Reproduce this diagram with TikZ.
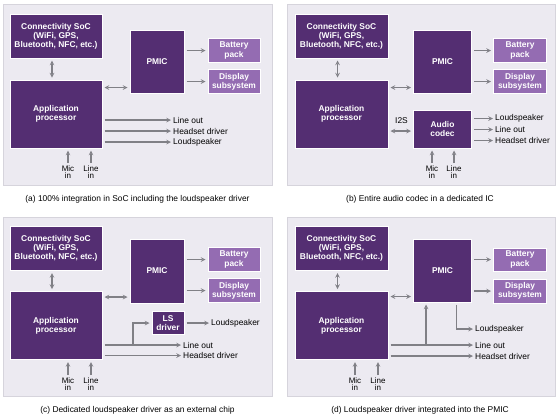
\documentclass[tikz,border=0pt]{standalone}
\usepackage{fontspec}
\setmainfont{Liberation Sans}
\usetikzlibrary{shadows}
\definecolor{panelbg}{RGB}{236,234,241}
\definecolor{panelline}{RGB}{214,212,220}
\definecolor{chipdark}{RGB}{84,46,114}
\definecolor{chiplight}{RGB}{148,108,178}
\definecolor{arrgrey}{RGB}{128,128,134}
\newcommand\chipfont{\fontsize{8.4}{9.1}\selectfont\bfseries}
\newcommand\lblfont{\fontsize{8.4}{9}\selectfont}
\newcommand\micfont{\fontsize{8}{7.6}\selectfont}
\begin{document}
\begin{tikzpicture}[x=1pt,y=-1pt,>=stealth,
  panel/.style={fill=panelbg,draw=panelline,line width=.6pt,
    drop shadow={opacity=.18,shadow xshift=.6pt,shadow yshift=-.8pt}},
  chip/.style={fill=chipdark,draw=white,line width=1pt,text=white,font=\chipfont,
    align=center,inner sep=0pt,
    drop shadow={opacity=.3,shadow xshift=.6pt,shadow yshift=-.8pt}},
  subchip/.style={chip,fill=chiplight},
  lbl/.style={font=\lblfont,inner sep=0pt,anchor=west},
  mic/.style={font=\micfont,inner sep=0pt,align=center,anchor=north},
  caption/.style={font=\lblfont,inner sep=0pt},
  arr/.style={->,draw=arrgrey,line width=1.1pt,shorten >=2pt,shorten <=2pt},
  dbl/.style={arr,<->}]
\useasboundingbox (0,0) rectangle (560,416);
\fill[white] (0,0) rectangle (560,416);

% (a)
\begin{scope}
\draw[panel] (3,4) rectangle (272,185);
\node[chip,minimum width=92pt,minimum height=44pt] (con1) at (56,36) {Connectivity SoC\\(WiFi, GPS,\\Bluetooth, NFC, etc.)};
\node[chip,minimum width=92pt,minimum height=68pt] (ap1) at (56,114) {Application\\processor};
\node[chip,minimum width=54pt,minimum height=63pt] (pmic1) at (157,61.5) {PMIC};
\node[subchip,minimum width=52pt,minimum height=24pt] (bat1) at (234,50.5) {Battery\\pack};
\node[subchip,minimum width=52pt,minimum height=24pt] (disp1) at (234,81.5) {Display\\subsystem};
\draw[dbl] ([xshift=-4pt]con1.south) -- ([xshift=-4pt]ap1.north);
\draw[dbl] ([yshift=6pt]pmic1.south west -| ap1.east) -- ([yshift=6pt]pmic1.south west);
\draw[arr] (pmic1.east |- bat1) -- (bat1.west);
\draw[arr] (pmic1.east |- disp1) -- (disp1.west);
\node[lbl] (lo1) at (173,120) {Line out};
\node[lbl] (hs1) at (173,131) {Headset driver};
\node[lbl] (ls1) at (173,142) {Loudspeaker};
\draw[arr] (ap1.east |- lo1) -- (lo1.west);
\draw[arr] (ap1.east |- hs1) -- (hs1.west);
\draw[arr] (ap1.east |- ls1) -- (ls1.west);
\node[mic] (mic1) at (68,165) {Mic\\in};
\node[mic] (lin1) at (91,165) {Line\\in};
\draw[arr] (mic1.north) -- (mic1.north |- ap1.south);
\draw[arr] (lin1.north) -- (lin1.north |- ap1.south);
\node[caption] (cap1) at (137.5,199) {(a) 100\% integration in SoC including the loudspeaker driver};
\end{scope}

% (b)
\begin{scope}[shift={(284,0)}]
\draw[panel] (3,4) rectangle (271,185);
\node[chip,minimum width=93pt,minimum height=44pt] (con2) at (57.5,36) {Connectivity SoC\\(WiFi, GPS,\\Bluetooth, NFC, etc.)};
\node[chip,minimum width=93pt,minimum height=68pt] (ap2) at (57.5,114) {Application\\processor};
\node[chip,minimum width=58pt,minimum height=63pt] (pmic2) at (158.5,61.5) {PMIC};
\node[subchip,minimum width=53pt,minimum height=24pt] (bat2) at (236,50.5) {Battery\\pack};
\node[subchip,minimum width=53pt,minimum height=24pt] (disp2) at (236,81.5) {Display\\subsystem};
\node[chip,minimum width=58pt,minimum height=38pt] (codec2) at (158.5,129) {Audio\\codec};
\draw[dbl] ([xshift=-4pt]con2.south) -- ([xshift=-4pt]ap2.north);
\draw[dbl] ([yshift=6pt]pmic2.south west -| ap2.east) -- ([yshift=6pt]pmic2.south west);
\draw[arr] (pmic2.east |- bat2) -- (bat2.west);
\draw[arr] (pmic2.east |- disp2) -- (disp2.west);
\node[caption] (i2s2) at (117.5,121) {I2S};
\draw[dbl] ([yshift=-2pt]ap2.east |- codec2) -- ([yshift=-2pt]codec2.west);
\node[lbl] (ls2) at (211,118.5) {Loudspeaker};
\node[lbl] (lo2) at (211,129.5) {Line out};
\node[lbl] (hs2) at (211,140.5) {Headset driver};
\draw[arr] (codec2.east |- ls2) -- (ls2.west);
\draw[arr] (codec2.east |- lo2) -- (lo2.west);
\draw[arr] (codec2.east |- hs2) -- (hs2.west);
\node[mic] (mic2) at (148,165) {Mic\\in};
\node[mic] (lin2) at (170,165) {Line\\in};
\draw[arr] (mic2.north) -- (mic2.north |- codec2.south);
\draw[arr] (lin2.north) -- (lin2.north |- codec2.south);
\node[caption] (cap2) at (136,199) {(b) Entire audio codec in a dedicated IC};
\end{scope}

% (c)
\begin{scope}[shift={(0,212)}]
\draw[panel] (3,5) rectangle (272,184);
\node[chip,minimum width=92pt,minimum height=44pt] (con3) at (56,36.5) {Connectivity SoC\\(WiFi, GPS,\\Bluetooth, NFC, etc.)};
\node[chip,minimum width=92pt,minimum height=68pt] (ap3) at (56,113.5) {Application\\processor};
\node[chip,minimum width=54pt,minimum height=64pt] (pmic3) at (157,59) {PMIC};
\node[subchip,minimum width=52pt,minimum height=24pt] (bat3) at (234,47.5) {Battery\\pack};
\node[subchip,minimum width=52pt,minimum height=24pt] (disp3) at (234,78.5) {Display\\subsystem};
\node[chip,minimum width=32pt,minimum height=23pt] (lsd3) at (168,111) {LS\\driver};
\draw[dbl] ([xshift=-4pt]con3.south) -- ([xshift=-4pt]ap3.north);
\draw[dbl] ([yshift=6.5pt]pmic3.south west -| ap3.east) -- ([yshift=6.5pt]pmic3.south west);
\draw[arr] (pmic3.east |- bat3) -- (bat3.west);
\draw[arr] (pmic3.east |- disp3) -- (disp3.west);
\node[lbl] (ls3) at (211,111) {Loudspeaker};
\node[lbl] (lo3) at (183,133) {Line out};
\node[lbl] (hs3) at (183,143.5) {Headset driver};
\draw[arr] (lsd3.east) -- (ls3.west);
\draw[arr] (ap3.east |- lo3) -- (lo3.west);
\draw[arr] (ap3.east |- hs3) -- (hs3.west);
\coordinate (tap3) at (133,133);
\draw[arr,shorten <=0pt] (tap3) |- (lsd3.west);
\node[mic] (mic3) at (68,165) {Mic\\in};
\node[mic] (lin3) at (91,165) {Line\\in};
\draw[arr] (mic3.north) -- (mic3.north |- ap3.south);
\draw[arr] (lin3.north) -- (lin3.north |- ap3.south);
\node[caption] (cap3) at (137.5,198.5) {(c) Dedicated loudspeaker driver as an external chip};
\end{scope}

% (d)
\begin{scope}[shift={(284,212)}]
\draw[panel] (3,5) rectangle (271,184);
\node[chip,minimum width=93pt,minimum height=44pt] (con4) at (57.5,36.5) {Connectivity SoC\\(WiFi, GPS,\\Bluetooth, NFC, etc.)};
\node[chip,minimum width=93pt,minimum height=68pt] (ap4) at (57.5,113.5) {Application\\processor};
\node[chip,minimum width=58pt,minimum height=63pt] (pmic4) at (158.5,58.5) {PMIC};
\node[subchip,minimum width=53pt,minimum height=23pt] (bat4) at (236,47.5) {Battery\\pack};
\node[subchip,minimum width=53pt,minimum height=24pt] (disp4) at (236,79) {Display\\subsystem};
\draw[dbl] ([xshift=-4pt]con4.south) -- ([xshift=-4pt]ap4.north);
\draw[dbl] ([yshift=6pt]pmic4.south west -| ap4.east) -- ([yshift=6pt]pmic4.south west);
\draw[arr] (pmic4.east |- bat4) -- (bat4.west);
\draw[arr] (pmic4.east |- disp4) -- (disp4.west);
\node[lbl] (ls4) at (191,117) {Loudspeaker};
\node[lbl] (lo4) at (191,133) {Line out};
\node[lbl] (hs4) at (191,144) {Headset driver};
\draw[arr] (ap4.east |- lo4) -- (lo4.west);
\draw[arr] (ap4.east |- hs4) -- (hs4.west);
\coordinate (tap4) at (142,133);
\draw[arr,shorten <=0pt] (tap4) -- (tap4 |- pmic4.south);
\draw[arr] ([xshift=14pt]pmic4.south) |- (ls4.west);
\node[mic] (mic4) at (71,165) {Mic\\in};
\node[mic] (lin4) at (94,165) {Line\\in};
\draw[arr] (mic4.north) -- (mic4.north |- ap4.south);
\draw[arr] (lin4.north) -- (lin4.north |- ap4.south);
\node[caption] (cap4) at (136,198.5) {(d) Loudspeaker driver integrated into the PMIC};
\end{scope}

\end{tikzpicture}
\end{document}
